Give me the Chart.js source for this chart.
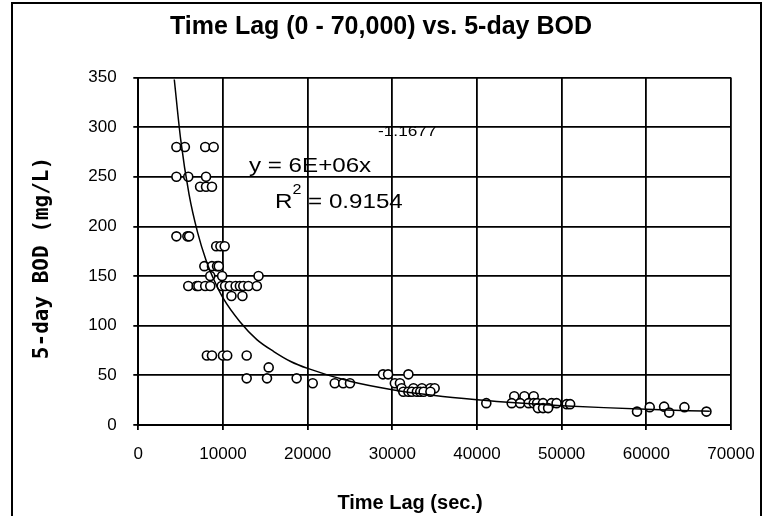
<!DOCTYPE html>
<html><head><meta charset="utf-8">
<script src="https://cdn.jsdelivr.net/npm/chart.js@4.4.1/dist/chart.umd.min.js"></script>
<style>html,body{margin:0;padding:0;background:#fff;}#wrap{width:772px;height:516px;position:relative;}</style>
</head><body><div id="wrap"><canvas id="c"></canvas></div>
<script>
const chartTitle = 'Time Lag (0 - 70,000) vs. 5-day BOD';
const xAxisTitle = 'Time Lag (sec.)';
const yAxisTitle = '5-day BOD (mg/L)';
const xTickValues = [0, 10000, 20000, 30000, 40000, 50000, 60000, 70000];
const yTickValues = [0, 50, 100, 150, 200, 250, 300, 350];

// observed points (time lag in s, 5-day BOD in mg/L)
const timeLag = [
  4500, 5500, 7900, 8900,
  4500, 5900, 8000,
  7300, 8000, 8700,
  4500, 5800, 6000,
  9200, 9700, 10200,
  7800, 8700, 9300, 9500,
  8500, 9900, 14200,
  5900, 6900, 7100, 7900, 8500, 9850, 10250, 10800, 11500, 12000, 12400, 13000, 14000,
  11000, 12300,
  8100, 8700, 10000, 10500, 12800,
  15400,
  12800, 15200, 18700,
  20600, 23200, 24200, 25000,
  28900, 29500, 31900,
  30300, 30900,
  31100, 32500, 33500, 34500, 35000,
  31300, 31900, 32300, 32900, 33300, 33700, 34500,
  41100,
  44400, 45600, 46700,
  44100, 45100, 46100, 46700, 47100, 47800, 48800, 49400,
  47200, 47800, 48400,
  50600, 51000,
  58900, 60400, 62100, 62700, 64500, 67100
];
const bod5 = [
  280, 280, 280, 280,
  250, 250, 250,
  240, 240, 240,
  190, 190, 190,
  180, 180, 180,
  160, 160, 160, 160,
  150, 150, 150,
  140, 140, 140, 140, 140, 140, 140, 140, 140, 140, 140, 140, 140,
  130, 130,
  70, 70, 70, 70, 70,
  58,
  47, 47, 47,
  42, 42, 42, 42,
  51, 51, 51,
  42, 42,
  37, 37, 37, 37, 37,
  33.5, 33.5, 33.5, 33.5, 33.5, 33.5, 33.5,
  22,
  29, 29, 29,
  22, 22, 22, 22, 22, 22, 22, 22,
  17, 17, 17,
  21, 21,
  13.5, 18, 18.5, 12.5, 18, 13.5
];

// power trendline as drawn on the chart
const trendTimeLag = [4250, 5000, 6000, 7000, 8000, 9000, 10000, 12000, 14000, 16000, 18000, 20000, 25000, 30000, 35000, 40000, 45000, 50000, 55000, 60000, 65000, 67500];
const trendBod5 = [348, 288, 232, 194, 166, 145, 128, 104, 86, 74, 64, 57, 44, 35.5, 29.6, 25.4, 22.1, 19.5, 17.5, 15.8, 14.4, 13.8];

const eqMain = 'y = 6E+06x';
const eqExponent = '-1.1677';
const r2Main = 'R';
const r2Sup = '2';
const r2Rest = ' = 0.9154';

const SANS = '"Liberation Sans", Arial, sans-serif';

const decor = {
  id: 'decor',
  beforeDraw(chart) {
    const ctx = chart.ctx;
    ctx.save();
    ctx.fillStyle = '#fff';
    ctx.fillRect(0, 0, chart.width, chart.height);
    ctx.restore();
  },
  afterDraw(chart) {
    const ctx = chart.ctx;
    ctx.save();
    // outer frame
    ctx.strokeStyle = '#000';
    ctx.lineWidth = 2;
    ctx.strokeRect(12, 3, 749, 530);
    ctx.fillStyle = '#000';
    // x axis title
    ctx.font = 'bold 20px ' + SANS;
    ctx.textAlign = 'center';
    ctx.textBaseline = 'alphabetic';
    ctx.fillText(xAxisTitle, 410, 509);
    // y axis title
    ctx.save();
    ctx.translate(48, 258);
    ctx.rotate(-Math.PI / 2);
    ctx.font = 'bold 21px "DejaVu Sans Mono", monospace';
    ctx.textAlign = 'center';
    ctx.fillText(yAxisTitle, 0, 0);
    ctx.restore();
    // trendline equation
    const sx = 1.15;
    function txt(s, x, y, size) {
      ctx.save();
      ctx.translate(x, y);
      ctx.scale(sx, 1);
      ctx.font = size + 'px ' + SANS;
      ctx.textAlign = 'left';
      ctx.fillText(s, 0, 0);
      const w = ctx.measureText(s).width * sx;
      ctx.restore();
      return w;
    }
    txt(eqMain, 249, 172, 21);
    txt(eqExponent, 378, 136, 15);
    let x = 275;
    x += txt(r2Main, x, 208, 21);
    x += txt(r2Sup, x, 194, 14);
    txt(r2Rest, x, 208, 21);
    ctx.restore();
  }
};

const ctx = document.getElementById('c');
new Chart(ctx, {
  type: 'scatter',
  data: {
    datasets: [
      {
        label: 'Power trend',
        data: trendTimeLag.map((x, i) => ({ x: x, y: trendBod5[i] })),
        showLine: true,
        pointRadius: 0,
        borderColor: '#000',
        borderWidth: 1.5,
        cubicInterpolationMode: 'monotone',
        fill: false
      },
      {
        label: '5-day BOD',
        data: timeLag.map((x, i) => ({ x: x, y: bod5[i] })),
        pointStyle: 'circle',
        pointRadius: 4.5,
        pointBorderWidth: 1.6,
        pointBorderColor: '#000',
        pointBackgroundColor: '#fff',
        showLine: false
      }
    ]
  },
  options: {
    responsive: true,
    maintainAspectRatio: false,
    animation: false,
    layout: { padding: { left: 31, right: 41, top: 0, bottom: 0 } },
    plugins: {
      legend: { display: false },
      tooltip: { enabled: false },
      title: {
        display: true,
        text: chartTitle,
        color: '#000',
        font: { family: SANS, size: 25, weight: 'bold' },
        padding: { top: 12.5, bottom: 35 }
      }
    },
    scales: {
      x: {
        type: 'linear',
        min: 0, max: 70000,
        afterBuildTicks: (s) => { s.ticks = xTickValues.map(v => ({ value: v })); },
        afterFit: (s) => { s.height = 91; },
        ticks: {
          color: '#000',
          font: { family: SANS, size: 17 },
          padding: 14,
          maxRotation: 0,
          callback: (v) => String(v)
        },
        grid: { color: '#000', lineWidth: 1.8, tickLength: 5, tickColor: '#000', tickWidth: 1.8 },
        border: { display: true, color: '#000', width: 2 }
      },
      y: {
        type: 'linear',
        min: 0, max: 350,
        afterBuildTicks: (s) => { s.ticks = yTickValues.map(v => ({ value: v })); },
        afterFit: (s) => { s.width = 107.3; },
        ticks: {
          color: '#000',
          font: { family: SANS, size: 17 },
          padding: 16.6,
          callback: (v) => String(v)
        },
        grid: { color: '#000', lineWidth: 1.8, tickLength: 5, tickColor: '#000', tickWidth: 1.8 },
        border: { display: true, color: '#000', width: 2 }
      }
    }
  },
  plugins: [decor]
});
</script>
</body></html>
